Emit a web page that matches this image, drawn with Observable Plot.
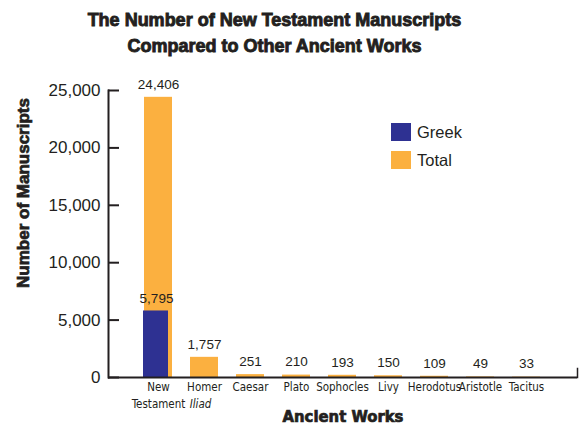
<!DOCTYPE html>
<html><head><meta charset="utf-8">
<script src="https://cdn.jsdelivr.net/npm/d3@7"></script>
<script src="https://cdn.jsdelivr.net/npm/@observablehq/plot@0.6"></script>
<style>
body{margin:0;background:#fff;}
#wrap{position:relative;width:585px;height:425px;overflow:hidden;}
#title{height:60px;text-align:center;font-family:"Liberation Sans",Arial,sans-serif;font-weight:700;font-size:18px;line-height:26px;color:#231f20;padding-top:7px;box-sizing:border-box;padding-right:36px;-webkit-text-stroke:0.9px #231f20;}
#legend{position:absolute;left:391px;top:118px;font-family:"Liberation Sans",Arial,sans-serif;font-size:16.5px;color:#231f20;}
.item{display:flex;align-items:center;height:28px;}
.sw{width:20px;height:18px;margin-right:6px;}
</style></head>
<body><div id="wrap"><div id="title">The Number of New Testament Manuscripts<br>Compared to Other Ancient Works</div><div id="chart"></div><div id="legend"></div></div>
<script>
const works = ["New Testament","Homer Iliad","Caesar","Plato","Sophocles","Livy","Herodotus","Aristotle","Tacitus"];
const line1 = ["New","Homer","Caesar","Plato","Sophocles","Livy","Herodotus","Aristotle","Tacitus"];
const line2 = ["Testament","Iliad","","","","","","",""];
const totals = [24406,1757,251,210,193,150,109,49,33];
const greek = [5795,null,null,null,null,null,null,null,null];
const yTicks = [0,5000,10000,15000,20000,25000];
const seriesNames = ["Greek","Total"];
const seriesColors = ["#2e3192","#fbb040"];

const data = works.map((w,i)=>({work:w, l1:line1[i], l2:line2[i], total:totals[i], greek:greek[i]}));
const greekData = data.filter(d=>d.greek!=null);
const fmt = d3.format(",");
const font = "Liberation Sans, Arial, sans-serif";
const narrow = "DejaVu Sans Condensed, Liberation Sans Narrow, sans-serif";

const chart = Plot.plot({
  width:585, height:365,
  marginLeft:108, marginRight:8, marginTop:30, marginBottom:48,
  style:{fontFamily:font, color:"#231f20", background:"#fff"},
  x:{domain:works, paddingInner:0.383, paddingOuter:0.681, label:null},
  y:{domain:[0,25000], label:null},
  marks:[
    Plot.barY(data,{x:"work", y:"total", fill:seriesColors[1]}),
    Plot.barY(greekData,{x:"work", y:"greek", fill:seriesColors[0], insetRight:3, dx:-1}),
    Plot.text(data,{x:"work", y:"total", text:d=>fmt(d.total), dy:-13, fontSize:13.5, fill:"#231f20"}),
    Plot.text(greekData,{x:"work", y:"greek", text:d=>fmt(d.greek), dy:-12, dx:-2, fontSize:13.5, fill:"#231f20"}),
    Plot.frame({anchor:"left", stroke:"#231f20", strokeWidth:2}),
    Plot.ruleY([0],{stroke:"#231f20", strokeWidth:2}),
    Plot.frame({anchor:"right", stroke:"#231f20", strokeWidth:1.5, insetTop:278}),
    Plot.axisY({ticks:yTicks, tickFormat:fmt, tickSize:-11, tickPadding:19, fontSize:17, stroke:"#231f20", strokeWidth:2,
      label:"Number of Manuscripts", labelAnchor:"center", labelArrow:"none", labelOffset:92}),
    Plot.axisX({tickSize:0, tickPadding:5, tickFormat:(d,i)=>line1[works.indexOf(d)], fontSize:11.5, fontFamily:narrow,
      label:"Ancient Works", labelAnchor:"center", labelArrow:"none", labelOffset:44}),
    Plot.text(data.filter(d=>d.l2==="Testament"),{x:"work", y:0, text:"l2", dy:27, fontSize:11.5, fontFamily:narrow, fill:"#231f20"}),
    Plot.text(data.filter(d=>d.l2==="Iliad"),{x:"work", y:0, text:"l2", dy:27, dx:-4, fontSize:11.5, fontFamily:narrow, fontStyle:"italic", fill:"#231f20"})
  ]
});
document.getElementById("chart").appendChild(chart);
d3.select(chart).selectAll("[aria-label='y-axis label'] text")
  .style("font-weight","700").style("font-size","17px").style("stroke","#231f20").style("stroke-width","0.7px").attr("dx", 41);
d3.select(chart).selectAll("[aria-label='x-axis label'] text")
  .style("font-weight","700").style("font-size","16.5px").style("stroke","#231f20").style("stroke-width","0.7px");

const lg = d3.select("#legend");
seriesNames.forEach((n,i)=>{
  const it = lg.append("div").attr("class","item");
  it.append("div").attr("class","sw").style("background",seriesColors[i]);
  it.append("span").text(n);
});
</script></body></html>
